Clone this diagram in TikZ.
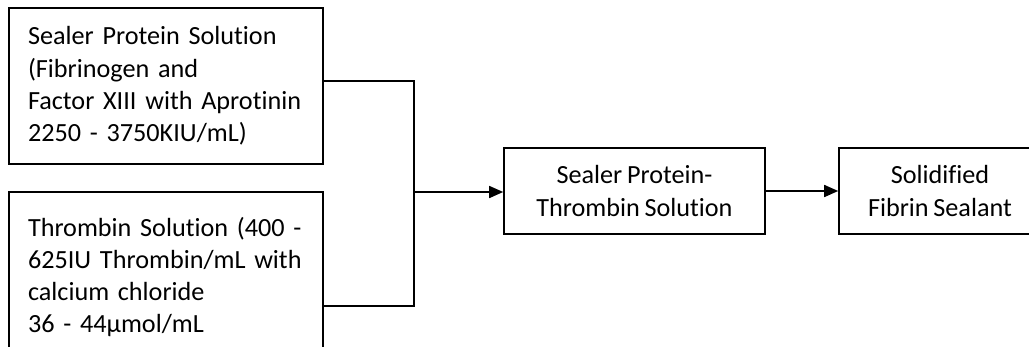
\documentclass[tikz,border=0pt]{standalone}
\usepackage{fontspec}
\setmainfont{Carlito}[Ligatures=NoCommon,WordSpace=0.8]
\usetikzlibrary{arrows.meta}

\begin{document}
\begin{tikzpicture}[x=1pt,y=-1pt,
	box/.style={draw,line width=1.6pt,inner sep=0pt,font=\fontsize{26.2}{32.3}\selectfont},
	leftbox/.style={box,minimum width=314pt,text width=276pt,align=left},
	midbox/.style={box,minimum height=86pt,align=center},
	flow/.style={line width=1.6pt,-{Triangle[length=14pt,width=12pt]}}]
	\useasboundingbox (0,0) rectangle (1029,346);
	\clip (0,0) rectangle (1029,346);
	% source solutions
	\node[leftbox,minimum height=156pt] (sealer) at (166,86) {Sealer Protein Solution\\(Fibrinogen and\\Factor XIII with Aprotinin\\2250 - 3750KIU/mL)};
	\node[leftbox,minimum height=170pt] (thrombin) at (166,277) {Thrombin Solution (400 -\\625IU Thrombin/mL with\\calcium chloride\\36 - 44µmol/mL};
	% mixture and product
	\node[midbox,minimum width=261pt] (mix) at (634.5,191) {Sealer Protein-\\Thrombin Solution};
	\node[midbox,minimum width=202pt] (solid) at (940,191) {Solidified\\Fibrin Sealant};
	\coordinate (join) at (414,192);
	\draw[line width=1.6pt] ([yshift=5pt]sealer.east) -| (join);
	\draw[line width=1.6pt] ([yshift=-29pt]thrombin.east) -| (join);
	\draw[flow] (join) -- (join -| mix.west);
	\draw[flow] (mix.east) -- (solid.west);
\end{tikzpicture}
\end{document}
